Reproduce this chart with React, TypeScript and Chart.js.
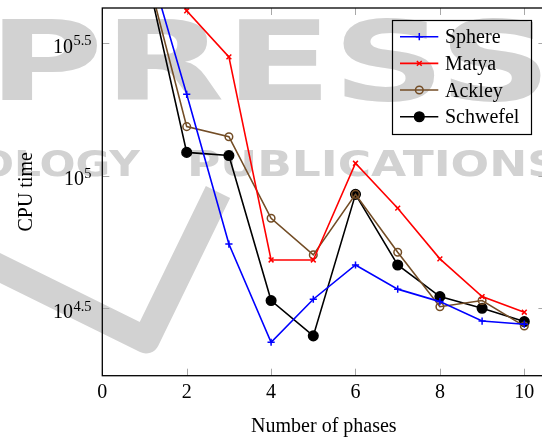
import { useEffect, useRef } from 'react';
import { Chart, registerables } from 'chart.js';

Chart.register(...registerables);

const phases = [1, 2, 3, 4, 5, 6, 7, 8, 9, 10];
const sphere = [714500, 202300, 55200, 23550, 34200, 46030, 37330, 33500, 28310, 27540];
const matya = [1000000, 416900, 279900, 48080, 48080, 111200, 75340, 48530, 34990, 30550];
const ackley = [631000, 152800, 140000, 69020, 50230, 84920, 51400, 32060, 33810, 27100];
const schwefel = [625200, 122200, 118900, 33810, 24890, 84920, 46030, 34990, 31620, 28180];
const seriesNames = ['Sphere', 'Matya', 'Ackley', 'Schwefel'];
const xTicks = [0, 2, 4, 6, 8, 10];
const yTickExponents = ['4.5', '5', '5.5'];
const xTitle = 'Number of phases';
const yTitle = 'CPU time';

const SERIF = '"Liberation Serif", "DejaVu Serif", serif';
const colors = ['#0000ff', '#ff0000', '#734d26', '#000000'];
const styles = ['cross', 'crossRot', 'circle', 'circle'];
const radii = [3.6, 3.4, 3.8, 4.8];
const fills = ['#0000ff', '#ff0000', 'rgba(0,0,0,0)', '#000000'];

function drawMarker(ctx: CanvasRenderingContext2D, i: number, x: number, y: number) {
  const r = radii[i];
  ctx.save();
  ctx.strokeStyle = colors[i];
  ctx.fillStyle = fills[i];
  ctx.lineWidth = 1.5;
  ctx.beginPath();
  if (styles[i] === 'cross') {
    ctx.moveTo(x - r, y); ctx.lineTo(x + r, y);
    ctx.moveTo(x, y - r); ctx.lineTo(x, y + r);
    ctx.stroke();
  } else if (styles[i] === 'crossRot') {
    const d = r * Math.SQRT1_2;
    ctx.moveTo(x - d, y - d); ctx.lineTo(x + d, y + d);
    ctx.moveTo(x - d, y + d); ctx.lineTo(x + d, y - d);
    ctx.stroke();
  } else {
    ctx.arc(x, y, r, 0, Math.PI * 2);
    ctx.fill();
    ctx.stroke();
  }
  ctx.restore();
}

function fitText(ctx: CanvasRenderingContext2D, text: string, x0: number, x1: number, baseline: number) {
  const w = ctx.measureText(text).width;
  ctx.save();
  ctx.translate(x0, baseline);
  ctx.scale((x1 - x0) / w, 1);
  ctx.fillText(text, 0, 0);
  ctx.restore();
}

const framePlugin = {
  id: 'framePlugin',
  beforeDraw(chart: any) {
    const { ctx } = chart;
    ctx.save();
    ctx.fillStyle = '#ffffff';
    ctx.fillRect(0, 0, chart.width, chart.height);
    // faint watermark
    ctx.fillStyle = '#d2d2d2';
    ctx.strokeStyle = '#d2d2d2';
    ctx.textAlign = 'left';
    ctx.textBaseline = 'alphabetic';
    ctx.font = 'bold 110px "DejaVu Sans", sans-serif';
    fitText(ctx, 'PRESS', -12, 552, 100);
    ctx.font = 'bold 36px "DejaVu Sans", sans-serif';
    fitText(ctx, 'OLOGY', -22, 140, 176);
    fitText(ctx, 'PUBLICATIONS', 187, 560, 176);
    ctx.lineWidth = 27;
    ctx.lineJoin = 'round';
    ctx.lineCap = 'butt';
    ctx.beginPath();
    ctx.moveTo(-10, 263);
    ctx.lineTo(146, 340);
    ctx.lineTo(218, 192);
    ctx.stroke();
    ctx.restore();
  },
  beforeDatasetsDraw(chart: any) {
    const { ctx, chartArea: a, scales } = chart;
    ctx.save();
    ctx.strokeStyle = '#a8a8a8';
    ctx.lineWidth = 1;
    ctx.beginPath();
    for (const t of xTicks) {
      const px = Math.round(scales.x.getPixelForValue(t)) + 0.5;
      ctx.moveTo(px, a.bottom); ctx.lineTo(px, a.bottom - 7);
      ctx.moveTo(px, a.top); ctx.lineTo(px, a.top + 7);
    }
    for (const e of yTickExponents) {
      const py = Math.round(scales.y.getPixelForValue(Math.pow(10, parseFloat(e)))) + 0.5;
      ctx.moveTo(a.left, py); ctx.lineTo(a.left + 7, py);
      ctx.moveTo(a.right, py); ctx.lineTo(a.right - 7, py);
    }
    ctx.stroke();
    ctx.restore();
  },
  afterDraw(chart: any) {
    const { ctx, chartArea: a, scales } = chart;
    ctx.save();
    // frame
    ctx.strokeStyle = '#000000';
    ctx.lineWidth = 1.3;
    ctx.strokeRect(a.left, a.top, a.right - a.left, a.bottom - a.top);
    // x tick labels
    ctx.fillStyle = '#000000';
    ctx.font = `20px ${SERIF}`;
    ctx.textAlign = 'center';
    ctx.textBaseline = 'alphabetic';
    for (const t of xTicks) {
      const px = scales.x.getPixelForValue(t);
      ctx.fillText(String(t), px, a.bottom + 22.3);
    }
    // y tick labels with superscript
    ctx.textAlign = 'right';
    for (const e of yTickExponents) {
      const py = scales.y.getPixelForValue(Math.pow(10, parseFloat(e)));
      ctx.font = `14.5px ${SERIF}`;
      const sw = ctx.measureText(e).width;
      ctx.fillText(e, 91.5, py + 2.5);
      ctx.font = `20px ${SERIF}`;
      ctx.fillText('10', 91.5 - sw - 0.3, py + 9.8);
    }
    // axis titles
    ctx.font = `20px ${SERIF}`;
    ctx.textAlign = 'center';
    ctx.fillText(xTitle, (a.left + a.right) / 2, 432);
    ctx.save();
    ctx.translate(31.5, (a.top + a.bottom) / 2);
    ctx.rotate(-Math.PI / 2);
    ctx.fillText(yTitle, 0, 0);
    ctx.restore();
    // legend
    ctx.lineWidth = 1.2;
    ctx.strokeStyle = '#000000';
    ctx.strokeRect(392.5, 20.5, 139, 114);
    seriesNames.forEach((name, i) => {
      const ry = 36.7 + i * 26.67;
      ctx.save();
      ctx.strokeStyle = colors[i];
      ctx.lineWidth = 1.6;
      ctx.beginPath();
      ctx.moveTo(400, ry);
      ctx.lineTo(438.3, ry);
      ctx.stroke();
      ctx.restore();
      drawMarker(ctx, i, 419.3, ry);
      ctx.fillStyle = '#000000';
      ctx.font = `20px ${SERIF}`;
      ctx.textAlign = 'left';
      ctx.textBaseline = 'alphabetic';
      ctx.fillText(name, 445, ry + 6.7);
    });
    ctx.restore();
  },
};

export default function App() {
  const ref = useRef<HTMLCanvasElement | null>(null);

  useEffect(() => {
    if (!ref.current) return;
    const series = [sphere, matya, ackley, schwefel];
    const chart = new Chart(ref.current, {
      type: 'line',
      data: {
        datasets: series.map((vals, i) => ({
          label: seriesNames[i],
          data: phases.map((p, j) => ({ x: p, y: vals[j] })),
          borderColor: colors[i],
          backgroundColor: fills[i],
          borderWidth: 1.6,
          pointStyle: styles[i] as any,
          pointRadius: radii[i],
          pointBorderWidth: 1.5,
          pointBorderColor: colors[i],
          pointBackgroundColor: fills[i],
          tension: 0,
          fill: false,
        })),
      },
      options: {
        responsive: false,
        animation: false,
        devicePixelRatio: 1,
        layout: { padding: { left: 102.3, top: 8, right: 560 - 545.4, bottom: 439 - 375.7 } },
        plugins: { legend: { display: false }, tooltip: { enabled: false } },
        scales: {
          x: { type: 'linear', min: 0, max: 10.5, display: false },
          y: { type: 'logarithmic', min: Math.pow(10, 4.246), max: Math.pow(10, 5.631), display: false },
        },
      },
      plugins: [framePlugin],
    });
    return () => chart.destroy();
  }, []);

  return (
    <div style={{ position: 'absolute', left: 0, top: 0, width: 542, height: 439, overflow: 'hidden', background: '#fff' }}>
      <canvas ref={ref} width={560} height={439} style={{ width: 560, height: 439, display: 'block' }} />
    </div>
  );
}
